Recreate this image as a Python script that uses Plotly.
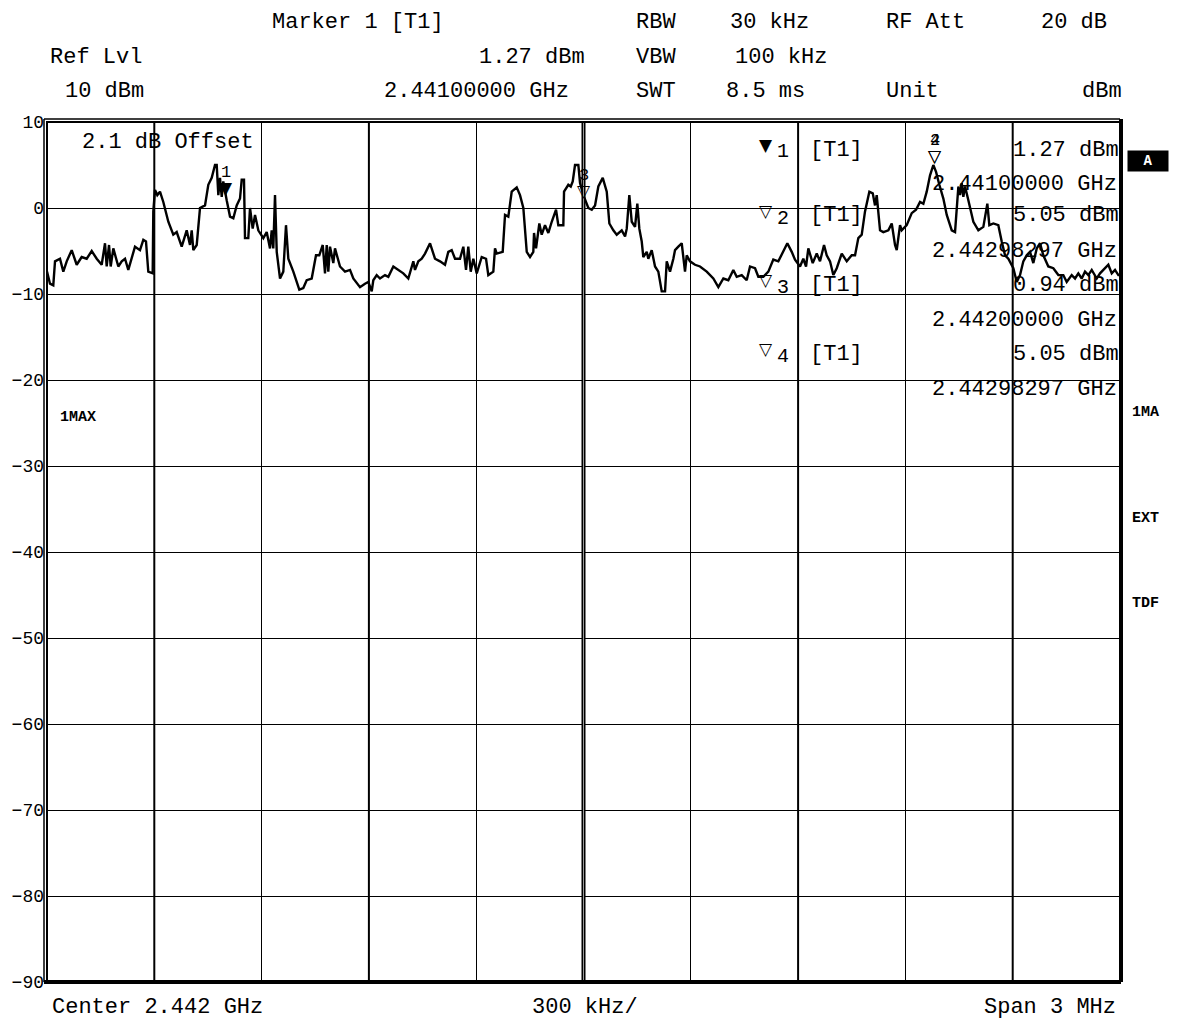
import plotly.graph_objects as go

# trace 1 (max hold), frequency in kHz from start of span (2.4405 GHz), level in dBm
freq_khz = [
    0, 8.4, 17.6, 22.4, 36.3, 45.6, 55.1, 69.1, 83.0, 97.0, 111.0, 125.0, 139.0, 152.9,
    162.2, 166.9, 173.4, 178.1, 185.4, 199.4, 208.9, 218.1, 227.3, 246.0, 260.0, 269.3,
    276.8, 283.2, 295.5, 297.2, 302.0, 308.4, 315.9, 325.2, 339.2, 353.1, 362.6, 376.6,
    390.6, 399.8, 404.6, 409.1, 418.6, 427.8, 441.8, 451.0, 460.5, 469.7, 474.5, 479.0,
    483.7, 488.5, 492.9, 497.7, 502.4, 511.7, 520.9, 530.4, 539.6, 544.4, 550.8, 553.6,
    562.8, 567.6, 575.1, 581.6, 590.8, 604.8, 614.3, 623.5, 628.3, 632.7, 637.5, 642.3,
    651.5, 660.7, 668.2, 674.7, 688.7, 705.4, 716.6, 726.1, 740.1, 752.1, 761.3, 770.9,
    777.3, 782.1, 786.5, 791.3, 800.5, 805.2, 819.2, 833.2, 847.2, 856.4, 875.1, 889.1,
    898.4, 907.9, 912.3, 921.8, 931.1, 945.0, 954.3, 968.3, 982.2,
    996.2, 1010.2, 1024.2, 1028.9, 1038.2, 1047.7, 1056.9, 1070.9, 1084.8, 1098.8, 1112.8,
    1122.0, 1131.5, 1140.8, 1154.7, 1164.0, 1171.5, 1177.9, 1184.7, 1192.0, 1201.5,
    1215.4, 1227.5, 1233.9, 1247.9, 1252.6, 1257.4, 1274.1, 1280.6, 1289.8, 1299.3,
    1313.3, 1322.5, 1331.8, 1341.3, 1350.5, 1359.7, 1361.7, 1367.3, 1376.5, 1383.2,
    1392.4, 1401.7, 1411.2, 1423.2, 1429.6, 1443.6, 1445.6, 1457.6, 1464.3, 1469.9,
    1476.3, 1485.6, 1490.3, 1499.6, 1513.5, 1523.0, 1532.3, 1541.5, 1553.8, 1565.0,
    1572.3, 1583.4, 1592.9, 1606.9, 1616.2, 1620.9, 1628.1, 1634.9, 1644.1, 1650.5,
    1656.1, 1662.8, 1667.2, 1676.8, 1681.2, 1690.7, 1700.0, 1709.2, 1718.7, 1728.0,
    1732.7, 1741.9, 1751.2, 1755.9, 1765.1, 1774.6, 1783.8, 1788.6, 1797.8, 1811.8,
    1825.8, 1844.5, 1863.0, 1877.0, 1891.0, 1904.9, 1918.9, 1928.4, 1942.4, 1956.3,
    1965.6, 1979.6, 1988.8, 2002.8, 2016.8, 2030.7, 2044.7, 2058.7, 2069.9, 2082.2,
    2091.4, 2105.4, 2114.6, 2122.2, 2128.6, 2140.9, 2152.1, 2161.3, 2172.5, 2180.0,
    2189.3, 2198.5, 2208.0, 2222.0, 2236.0, 2249.9, 2259.2, 2268.4, 2277.9, 2287.1,
    2299.2, 2308.7, 2315.1, 2319.8, 2329.1, 2338.3, 2352.3, 2361.8, 2371.0, 2375.8,
    2385.0, 2389.8, 2403.7, 2417.7, 2429.7, 2440.9, 2450.2, 2459.6, 2468.9, 2478.1,
    2485.7, 2494.9, 2506.1, 2515.6, 2529.6, 2538.8, 2548.1, 2552.7, 2557.5, 2562.0,
    2566.8, 2576.0, 2590.0, 2604.0, 2617.9, 2629.1, 2634.7, 2645.9, 2659.8, 2669.3,
    2678.6, 2687.8, 2701.8, 2711.3, 2720.5, 2729.7, 2739.2, 2748.4, 2757.7, 2767.2,
    2776.4, 2785.6, 2799.6, 2813.6, 2827.6, 2841.5, 2851.0, 2865.0, 2874.3, 2883.5,
    2893.0, 2902.2, 2911.5, 2921.0, 2935.0, 2944.2, 2953.4, 2967.4, 2976.9, 2986.1,
    2995.4, 3000.0,
]
level_dbm = [
    -7.4, -8.8, -9.0, -6.2, -5.9, -7.4, -6.2, -4.9, -6.6, -5.7, -5.9, -5.0, -5.9, -6.6,
    -4.1, -6.8, -4.3, -6.8, -4.7, -6.8, -6.2, -5.9, -7.2, -4.5, -4.9, -3.7,
    -3.9, -7.4, -7.6, -0.4, 2.1, 1.5, 1.9, 0.7, -1.6, -3.1, -2.8, -4.5,
    -2.6, -4.3, -2.6, -4.9, -4.3, 0.0, 0.3, 2.7, 3.5, 5.0, 5.0, 1.5,
    3.5, 1.3, 3.1, 1.7, 0.9, -1.0, -1.2, 0.3, 1.1, 3.3, 3.3, -3.5,
    -3.5, 0.0, -2.4, -0.8, -2.6, -3.5, -2.8, -4.7, -2.6, -4.7, 1.5, -5.1,
    -8.2, -7.4, -2.0, -5.9, -7.4, -9.5, -9.3, -8.4, -8.2, -5.5, -5.5, -4.3,
    -7.6, -4.3, -7.4, -4.5, -6.4, -4.7, -6.8, -7.4, -7.2, -8.2, -9.2, -8.8,
    -8.6, -9.7, -8.4, -7.8, -8.2, -7.8, -8.0, -6.8, -7.2,
    -7.6, -8.2, -6.2, -7.2, -6.2, -5.9, -5.3, -4.1, -5.9, -6.2, -6.6,
    -5.1, -4.9, -5.9, -5.9, -4.5, -7.2, -4.5, -7.4, -5.9, -7.6,
    -5.7, -5.9, -7.8, -7.4, -4.7, -5.3, -5.1, -0.8, -1.0, 1.9,
    2.4, 1.5, 0.0, -5.1, -5.7, -5.1, -2.9, -4.7, -1.8, -3.1,
    -2.0, -2.9, -1.6, -0.2, -2.0, -2.0, 1.9, 2.7, 2.5, 3.1,
    5.0, 5.0, 2.9, 1.5, 0.0, -0.2, 0.3, 2.5, 3.5, 1.9,
    -1.8, -2.6, -3.1, -2.6, -3.3, -2.4, 1.5, -1.6, -2.2, 0.5,
    -2.4, -3.9, -5.7, -5.1, -5.9, -4.9, -6.8, -7.4, -9.7, -9.7,
    -6.2, -7.4, -5.9, -4.9, -4.5, -4.1, -7.4, -5.5, -6.2, -6.6,
    -6.8, -7.4, -8.2, -9.2, -8.2, -8.4, -7.2, -8.0, -7.8, -8.4,
    -6.8, -7.0, -8.0, -8.0, -7.4, -6.0, -6.2, -5.1, -4.1, -5.1,
    -6.0, -6.8, -5.9, -6.8, -4.7, -6.4, -5.3, -6.2, -4.3, -5.5,
    -6.2, -7.8, -7.0, -5.3, -6.2, -5.5, -5.5, -3.5, -3.1, -0.4,
    1.9, 1.7, 0.3, 1.5, -2.6, -2.8, -2.6, -1.8, -4.3, -4.9,
    -2.0, -2.6, -2.0, -0.6, -0.2, 0.7, 0.5, 1.9, 3.8, 5.0,
    4.2, 2.7, 1.1, -0.8, -2.6, -2.8, 2.5, 1.5, 2.9, 1.3,
    2.5, 0.9, -1.6, -2.6, -2.2, 0.5, -2.0, -1.8, -2.0, -3.9,
    -5.5, -5.9, -7.0, -8.6, -7.8, -6.2, -5.5, -5.1, -6.4, -4.7,
    -4.1, -5.5, -6.8, -7.0, -7.8, -7.8, -8.6, -7.8, -8.2, -7.6,
    -8.2, -7.4, -7.8, -7.2, -8.2, -7.6, -7.2, -6.6, -7.6, -7.2,
    -7.8, -7.8,
]

# markers
marker_ids = ["1", "3", "2", "4"]
marker_freq_khz = [500.0, 1500.0, 2482.97, 2482.97]
marker_level = [1.27, 0.94, 5.05, 5.05]
marker_glyph = ["▼", "▽", "▽", "▽"]

y_ticks = [10, 0, -10, -20, -30, -40, -50, -60, -70, -80, -90]
x_grid = [0, 300, 600, 900, 1200, 1500, 1800, 2100, 2400, 2700, 3000]

W, H = 1187, 1019
L, R, T, B = 47, 1120, 122, 982
MONO = "Liberation Mono, Courier New, monospace"
SYM = "DejaVu Sans"


def px(x):
    return (x - L) / (R - L)


def py(y):
    return (B - y) / (B - T)


fig = go.Figure()
fig.add_trace(go.Scatter(
    x=freq_khz, y=level_dbm, mode="lines",
    line=dict(color="black", width=2.4), hoverinfo="skip", showlegend=False,
))

annotations = []


def label(text, x, y, anchor="left", size=22, bold=False, family=MONO, **kw):
    if bold:
        text = f"<b>{text}</b>"
    annotations.append(dict(
        text=text, x=px(x), y=py(y), xref="paper", yref="paper",
        xanchor=anchor, yanchor="middle", showarrow=False,
        font=dict(family=family, size=size, color="black"), **kw,
    ))


# header block
label("Marker 1 [T1]", 270, 22)
label("RBW", 634, 22)
label("30 kHz", 811, 22, "right")
label("RF Att", 884, 22)
label("20 dB", 1109, 22, "right")
label("Ref Lvl", 48, 57)
label("1.27 dBm", 587, 57, "right")
label("VBW", 634, 57)
label("100 kHz", 829, 57, "right")
label("10 dBm", 63, 92)
label("2.44100000 GHz", 571, 92, "right")
label("SWT", 634, 92)
label("8.5 ms", 724, 92)
label("Unit", 884, 92)
label("dBm", 1124, 92, "right")

# inside grid
label("2.1 dB Offset", 80, 142)
table = [
    ("▼", "1", "1.27 dBm", "2.44100000 GHz", 150),
    ("▽", "2", "5.05 dBm", "2.44298297 GHz", 216),
    ("▽", "3", "0.94 dBm", "2.44200000 GHz", 285),
    ("▽", "4", "5.05 dBm", "2.44298297 GHz", 354),
]
for glyph, num, lvl, frq, yy in table:
    label(glyph, 766, yy - 5, "center", size=17, family=SYM)
    label(num, 783, yy + 2, "center", size=20)
    label("[T1]", 808, yy)
    label(lvl, 1121, yy, "right")
    label(frq, 1119, yy + 35, "right")

# side labels
label("1MAX", 58, 417, size=15, bold=True)
label("1MA", 1130, 412, size=15, bold=True)
label("EXT", 1130, 518, size=15, bold=True)
label("TDF", 1130, 603, size=15, bold=True)
annotations.append(dict(
    text="<b>A</b>", x=px(1148), y=py(161), xref="paper", yref="paper",
    xanchor="center", yanchor="middle", showarrow=False, bgcolor="black",
    width=38, height=18, font=dict(family=MONO, size=14, color="white"),
))

# footer
label("Center 2.442 GHz", 50, 1007)
label("300 kHz/", 530, 1007)
label("Span 3 MHz", 1118, 1007, "right")

# marker symbols on the trace
for mid, f, lv, g in zip(marker_ids, marker_freq_khz, marker_level, marker_glyph):
    annotations.append(dict(
        text=g, x=f, y=lv, xref="x", yref="y", xanchor="center", yanchor="bottom",
        yshift=-3, showarrow=False, font=dict(family=SYM, size=17, color="black"),
    ))
    annotations.append(dict(
        text=mid, x=f, y=lv, xref="x", yref="y", xanchor="center", yanchor="bottom",
        yshift=13, showarrow=False, font=dict(family=MONO, size=17, color="black"),
    ))

shapes = []
# heavier division lines
for xv in [300, 900, 2100, 2700]:
    shapes.append(dict(type="line", xref="x", yref="paper", x0=xv, x1=xv, y0=0, y1=1,
                       line=dict(color="black", width=2)))
shapes.append(dict(type="line", xref="x", yref="paper", x0=1500, x1=1500, y0=0, y1=1,
                   line=dict(color="black", width=4)))
shapes.append(dict(type="line", xref="x", yref="paper", x0=1500, x1=1500, y0=0, y1=1,
                   line=dict(color="#999999", width=1)))
# frame
shapes.append(dict(type="rect", xref="paper", yref="paper", x0=0, x1=1, y0=0, y1=1,
                   line=dict(color="black", width=2)))
shapes.append(dict(type="line", xref="paper", yref="paper", x0=-3 / (R - L), x1=1,
                   y0=1 + 3 / (B - T), y1=1 + 3 / (B - T), line=dict(color="black", width=1.5)))
shapes.append(dict(type="line", xref="paper", yref="paper", x0=-3 / (R - L), x1=-3 / (R - L),
                   y0=0, y1=1 + 3 / (B - T), line=dict(color="black", width=1.5)))
shapes.append(dict(type="line", xref="paper", yref="paper", x0=-3 / (R - L), x1=1 + 1 / (R - L),
                   y0=0, y1=0, line=dict(color="black", width=4)))
shapes.append(dict(type="line", xref="paper", yref="paper", x0=1 + 1 / (R - L), x1=1 + 1 / (R - L),
                   y0=0, y1=1 + 3 / (B - T), line=dict(color="black", width=4)))

fig.update_layout(
    width=W, height=H,
    margin=dict(l=L, r=W - R, t=T, b=H - B, pad=0),
    paper_bgcolor="white", plot_bgcolor="white",
    xaxis=dict(range=[0, 3000], tickvals=x_grid, showticklabels=False, ticks="",
               showgrid=True, gridcolor="black", gridwidth=1.3, zeroline=False, showline=False),
    yaxis=dict(range=[-90, 10], tickvals=y_ticks, ticks="", showgrid=True,
               gridcolor="black", gridwidth=1.3, zeroline=False, showline=False,
               tickfont=dict(family=MONO, size=18, color="black"), ticklabelstandoff=2),
    annotations=annotations, shapes=shapes,
)

fig.write_html("out.html", config={"displayModeBar": False},
               post_script="document.body.style.margin='0';")
